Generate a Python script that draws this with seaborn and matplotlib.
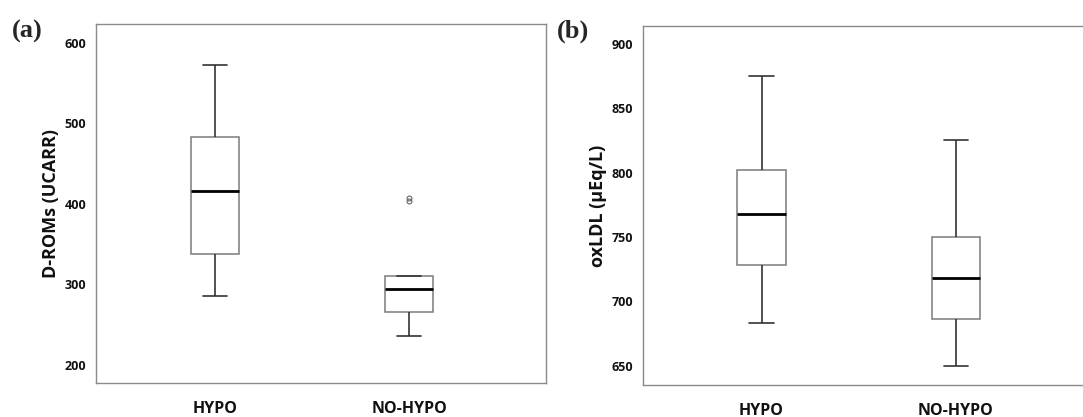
import matplotlib
matplotlib.use('Agg')
import matplotlib.pyplot as plt
import seaborn as sns
import pandas as pd

# values (min whisker, Q1, median, Q3, max whisker, outliers)
groups = ['HYPO', 'NO-HYPO']
droms_hypo = [285, 337.5, 416, 483, 572]
droms_nohypo = [236, 266, 266, 294, 294, 310, 310, 403, 407]
oxldl_hypo = [683, 728, 768, 802, 875]
oxldl_nohypo = [650, 686.5, 718.5, 750, 825.5]

df_a = pd.DataFrame({'group': ['HYPO'] * len(droms_hypo) + ['NO-HYPO'] * len(droms_nohypo),
                     'value': droms_hypo + droms_nohypo})
df_b = pd.DataFrame({'group': ['HYPO'] * len(oxldl_hypo) + ['NO-HYPO'] * len(oxldl_nohypo),
                     'value': oxldl_hypo + oxldl_nohypo})

sns.set_style('white')
plt.rcParams['font.family'] = ['Open Sans', 'DejaVu Sans']

W, H = 1083, 417
fig = plt.figure(figsize=(W / 100, H / 100), dpi=100)


def px_axes(x0, y0, x1, y1):
    return fig.add_axes([x0 / W, 1 - y1 / H, (x1 - x0) / W, (y1 - y0) / H])


ax_a = px_axes(96, 24, 546, 383)
ax_b = px_axes(643, 26, 1090, 385)

box_kw = dict(x='group', y='value', order=groups, width=0.25, color='white',
              linecolor='#7a7a7a', linewidth=1.1, fliersize=3.5,
              medianprops=dict(color='black', linewidth=2),
              whiskerprops=dict(color='#333333', linewidth=1.2),
              capprops=dict(color='#333333', linewidth=1.2),
              flierprops=dict(marker='o', markerfacecolor='none', markeredgecolor='#666666',
                              markeredgewidth=0.8))

for ax, df, ylab, ylim, yticks in [
    (ax_a, df_a, 'D-ROMs (UCARR)', (177.5, 623), [200, 300, 400, 500, 600]),
    (ax_b, df_b, 'oxLDL (µEq/L)', (635, 914), [650, 700, 750, 800, 850, 900]),
]:
    sns.boxplot(data=df, ax=ax, **box_kw)
    ax.set_ylim(*ylim)
    ax.set_yticks(yticks)
    ax.set_xlabel('')
    ax.set_ylabel(ylab, fontsize=13, fontweight='bold', color='#111111', labelpad=3)
    for s in ax.spines.values():
        s.set_color('#8a8a8a')
        s.set_linewidth(1.0)
    ax.tick_params(axis='y', direction='out', length=4, width=1, color='#666666',
                   labelsize=9, labelcolor='#111111', pad=3)
    ax.tick_params(axis='x', direction='out', length=6, width=1, color='#666666',
                   labelsize=11.5, labelcolor='#111111', pad=7)
    for lab in ax.get_xticklabels() + ax.get_yticklabels():
        lab.set_fontweight('bold')

ax_a.set_xlim(-0.613, 1.706)
ax_b.set_xlim(-0.61, 1.69)
ax_b.spines['right'].set_visible(False)

fig.text(12 / W, 1 - 31 / H, '(a)', fontsize=19, fontweight='bold',
         family=['Liberation Serif', 'DejaVu Serif'], va='center', ha='left')
fig.text(557 / W, 1 - 31 / H, '(b)', fontsize=19, fontweight='bold',
         family=['Liberation Serif', 'DejaVu Serif'], va='center', ha='left')

fig.savefig('out.png', dpi=100, facecolor='white')
